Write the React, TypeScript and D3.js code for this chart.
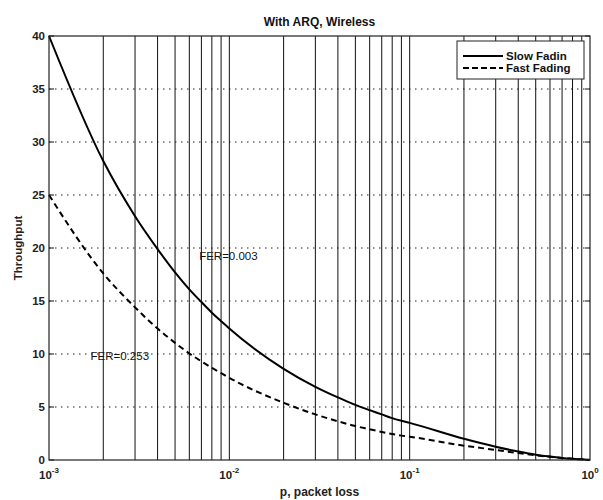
import React from "react";
import * as d3 from "d3";

const W = 603;
const H = 500;

const pValues = [0.001, 0.002, 0.003, 0.004, 0.005, 0.006, 0.007, 0.008, 0.009, 0.01,
  0.02, 0.03, 0.04, 0.05, 0.06, 0.07, 0.08, 0.09, 0.1,
  0.2, 0.3, 0.4, 0.5, 0.6, 0.7, 0.8, 0.9, 1.0];
const slowFading = [40, 28.2, 23.0, 19.9, 17.7, 16.1, 14.9, 13.9, 13.1, 12.4,
  8.6, 6.9, 5.9, 5.2, 4.7, 4.3, 3.95, 3.7, 3.5,
  2.0, 1.25, 0.8, 0.5, 0.32, 0.2, 0.12, 0.06, 0.0];
const fastFading = [25, 17.6, 14.4, 12.4, 11.05, 10.05, 9.3, 8.7, 8.2, 7.75,
  5.4, 4.3, 3.65, 3.2, 2.9, 2.65, 2.45, 2.3, 2.2,
  1.35, 0.95, 0.65, 0.45, 0.3, 0.2, 0.12, 0.06, 0.0];
const yTicks = [0, 5, 10, 15, 20, 25, 30, 35, 40];
const xDecades = [-3, -2, -1, 0];
const legendLabels = ["Slow Fadin", "Fast Fading"];
const annotations = [
  { text: "FER=0.003", p: 0.0068, v: 18.9 },
  { text: "FER=0.253", p: 0.0017, v: 9.4 },
];

const left = 49;
const right = 590;
const top = 36;
const bottom = 460;

export default function App() {
  const x = d3.scaleLog().domain([1e-3, 1]).range([left, right]);
  const y = d3.scaleLinear().domain([0, 40]).range([bottom, top]);

  const gridX: number[] = [];
  for (let e = -3; e < 0; e++) {
    for (let m = 1; m <= 9; m++) {
      const v = m * Math.pow(10, e);
      if (v > 1e-3) gridX.push(v);
    }
  }

  const line = d3
    .line<number>()
    .x((_, i) => x(pValues[i]))
    .y((d) => y(d))
    .curve(d3.curveMonotoneX);

  const font = "Arial, 'Liberation Sans', sans-serif";

  const legX = 457;
  const legY = 41;
  const legW = 127;
  const legH = 38;

  return (
    <svg
      width={W}
      height={H}
      style={{ position: "absolute", left: 0, top: 0, background: "#fff" }}
      fontFamily={font}
    >
      <rect x={0} y={0} width={W} height={H} fill="#fff" />
      {yTicks.slice(1, -1).map((t) => (
        <line
          key={"hg" + t}
          x1={left}
          x2={right}
          y1={y(t)}
          y2={y(t)}
          stroke="#222"
          strokeWidth={1}
          strokeDasharray="1.5,4.5"
        />
      ))}
      {gridX.map((v, i) => (
        <line
          key={"vg" + i}
          x1={x(v)}
          x2={x(v)}
          y1={top}
          y2={bottom}
          stroke="#111"
          strokeWidth={1}
        />
      ))}
      {yTicks.map((t) => (
        <g key={"yt" + t}>
          <line x1={left} x2={left + 5} y1={y(t)} y2={y(t)} stroke="#111" />
          <line x1={right} x2={right - 5} y1={y(t)} y2={y(t)} stroke="#111" />
          <text
            x={left - 4}
            y={y(t)}
            dy="0.36em"
            textAnchor="end"
            fontSize={11.5}
            fontWeight="bold"
            fill="#222"
          >
            {t}
          </text>
        </g>
      ))}
      {xDecades.map((e) => (
        <text
          key={"xt" + e}
          x={x(Math.pow(10, e))}
          y={479}
          textAnchor="middle"
          fontSize={11.5}
          fontWeight="bold"
          fill="#222"
        >
          10
          <tspan dy={-6} fontSize={8}>
            {e}
          </tspan>
        </text>
      ))}
      <path
        d={line(slowFading) || ""}
        fill="none"
        stroke="#000"
        strokeWidth={2}
      />
      <path
        d={line(fastFading) || ""}
        fill="none"
        stroke="#000"
        strokeWidth={2}
        strokeDasharray="6,4"
      />
      {annotations.map((a) => (
        <text
          key={a.text}
          x={x(a.p)}
          y={y(a.v)}
          fontSize={11.5}
          fill="#111"
        >
          {a.text}
        </text>
      ))}
      <rect
        x={left}
        y={top}
        width={right - left}
        height={bottom - top}
        fill="none"
        stroke="#222"
        strokeWidth={1.2}
      />
      <rect
        x={legX}
        y={legY}
        width={legW}
        height={legH}
        fill="#fff"
        stroke="#222"
        strokeWidth={1}
      />
      {legendLabels.map((lab, i) => (
        <g key={lab}>
          <line
            x1={legX + 6}
            x2={legX + 46}
            y1={legY + 15 + i * 12}
            y2={legY + 15 + i * 12}
            stroke="#000"
            strokeWidth={2}
            strokeDasharray={i === 1 ? "6,3" : undefined}
          />
          <text
            x={legX + 49}
            y={legY + 15 + i * 12}
            dy="0.36em"
            fontSize={11.5}
            fontWeight="bold"
            fill="#111"
          >
            {lab}
          </text>
        </g>
      ))}
      <text
        x={(left + right) / 2}
        y={26}
        textAnchor="middle"
        fontSize={12}
        fontWeight="bold"
        fill="#111"
      >
        With ARQ, Wireless
      </text>
      <text
        x={(left + right) / 2}
        y={496}
        textAnchor="middle"
        fontSize={12}
        fontWeight="bold"
        fill="#222"
      >
        p, packet loss
      </text>
      <text
        transform={`translate(22, ${(top + bottom) / 2}) rotate(-90)`}
        textAnchor="middle"
        fontSize={11.5}
        fontWeight="bold"
        fill="#222"
      >
        Throughput
      </text>
    </svg>
  );
}
